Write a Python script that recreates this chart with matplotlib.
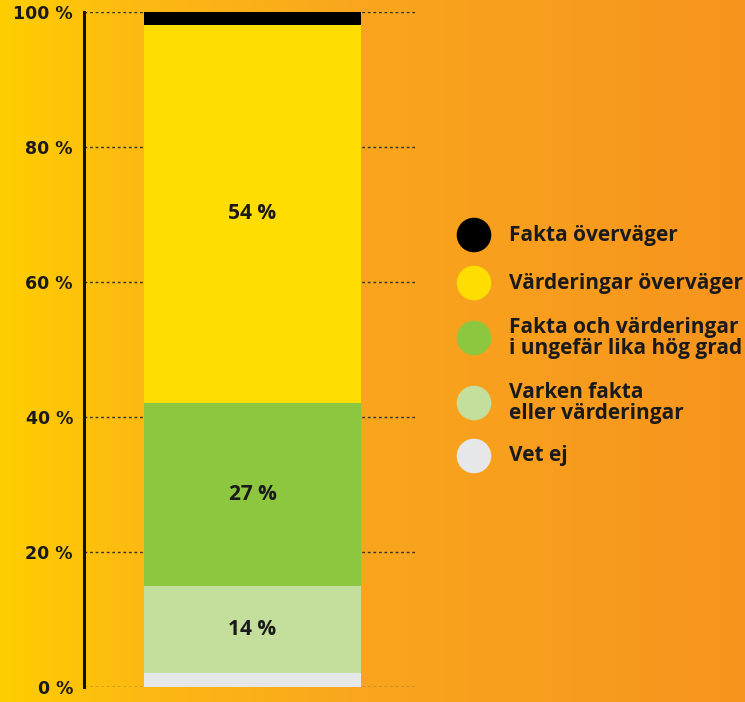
import numpy as np
import matplotlib
matplotlib.use("Agg")
import matplotlib.pyplot as plt

# data, bottom to top
categories = ["Vet ej", "Varken fakta\neller värderingar",
              "Fakta och värderingar\ni ungefär lika hög grad",
              "Värderingar överväger", "Fakta överväger"]
values = [2.1, 12.9, 27.1, 56.0, 1.9]
bar_labels = ["", "14 %", "27 %", "54 %", ""]
colors = ["#e6e7e8", "#c4df9b", "#8dc63f", "#ffdd00", "#000000"]
yticks = [0, 20, 40, 60, 80, 100]
ytick_labels = ["0 %", "20 %", "40 %", "60 %", "80 %", "100 %"]

W, H = 745, 702
fig = plt.figure(figsize=(W / 100, H / 100), dpi=100)

# gradient background (yellow -> orange)
bg = fig.add_axes([0, 0, 1, 1])
stops_x = [0, 140, 360, 745]
stops_c = np.array([[255, 206, 0], [253, 185, 19],
                    [249, 166, 30], [247, 148, 29]]) / 255
xs = np.arange(W)
grad = np.stack([np.interp(xs, stops_x, stops_c[:, k]) for k in range(3)],
                axis=-1)[None, :, :]
bg.imshow(grad, aspect="auto", extent=[0, 1, 0, 1])
bg.axis("off")

ax = fig.add_axes([84 / W, 1 - 687 / H, (415 - 84) / W, (687 - 12) / H])
ax.set_facecolor("none")
ax.set_xlim(0, 1)
ax.set_ylim(0, 100)

for y in yticks:
    ax.axhline(y, color="#333333", lw=1.0, ls=(0, (2, 2)), zorder=1)

bottom = 0
for v, c, lab in zip(values, colors, bar_labels):
    ax.bar(0.509, v, width=0.656, bottom=bottom, color=c, zorder=2)
    if lab:
        ax.text(0.509, bottom + v / 2, lab, ha="center", va="center",
                fontsize=15, fontweight="bold", color="#1a1a1a",
                family="Open Sans", zorder=3)
    bottom += v

for s in ["top", "right", "bottom"]:
    ax.spines[s].set_visible(False)
ax.spines["left"].set_linewidth(2.2)
ax.spines["left"].set_color("#111111")
ax.set_xticks([])
ax.set_yticks(yticks)
ax.set_yticklabels(ytick_labels, fontsize=12.5, fontweight="bold",
                   family="DejaVu Sans", color="#1a1a1a")
ax.tick_params(axis="y", length=0, pad=8)

# legend drawn by hand in pixel coords
leg = fig.add_axes([0, 0, 1, 1])
leg.set_xlim(0, W)
leg.set_ylim(H, 0)
leg.axis("off")
leg_y = [456, 403, 338, 283, 235]
for cat, c, y in zip(categories, colors, leg_y):
    leg.scatter([474], [y], s=620, color=c, edgecolors="none")
    leg.text(509, y, cat, ha="left", va="center", fontsize=15,
             fontweight="bold", family="Open Sans", color="#1a1a1a",
             linespacing=0.95)

fig.savefig("out.png", dpi=100)
